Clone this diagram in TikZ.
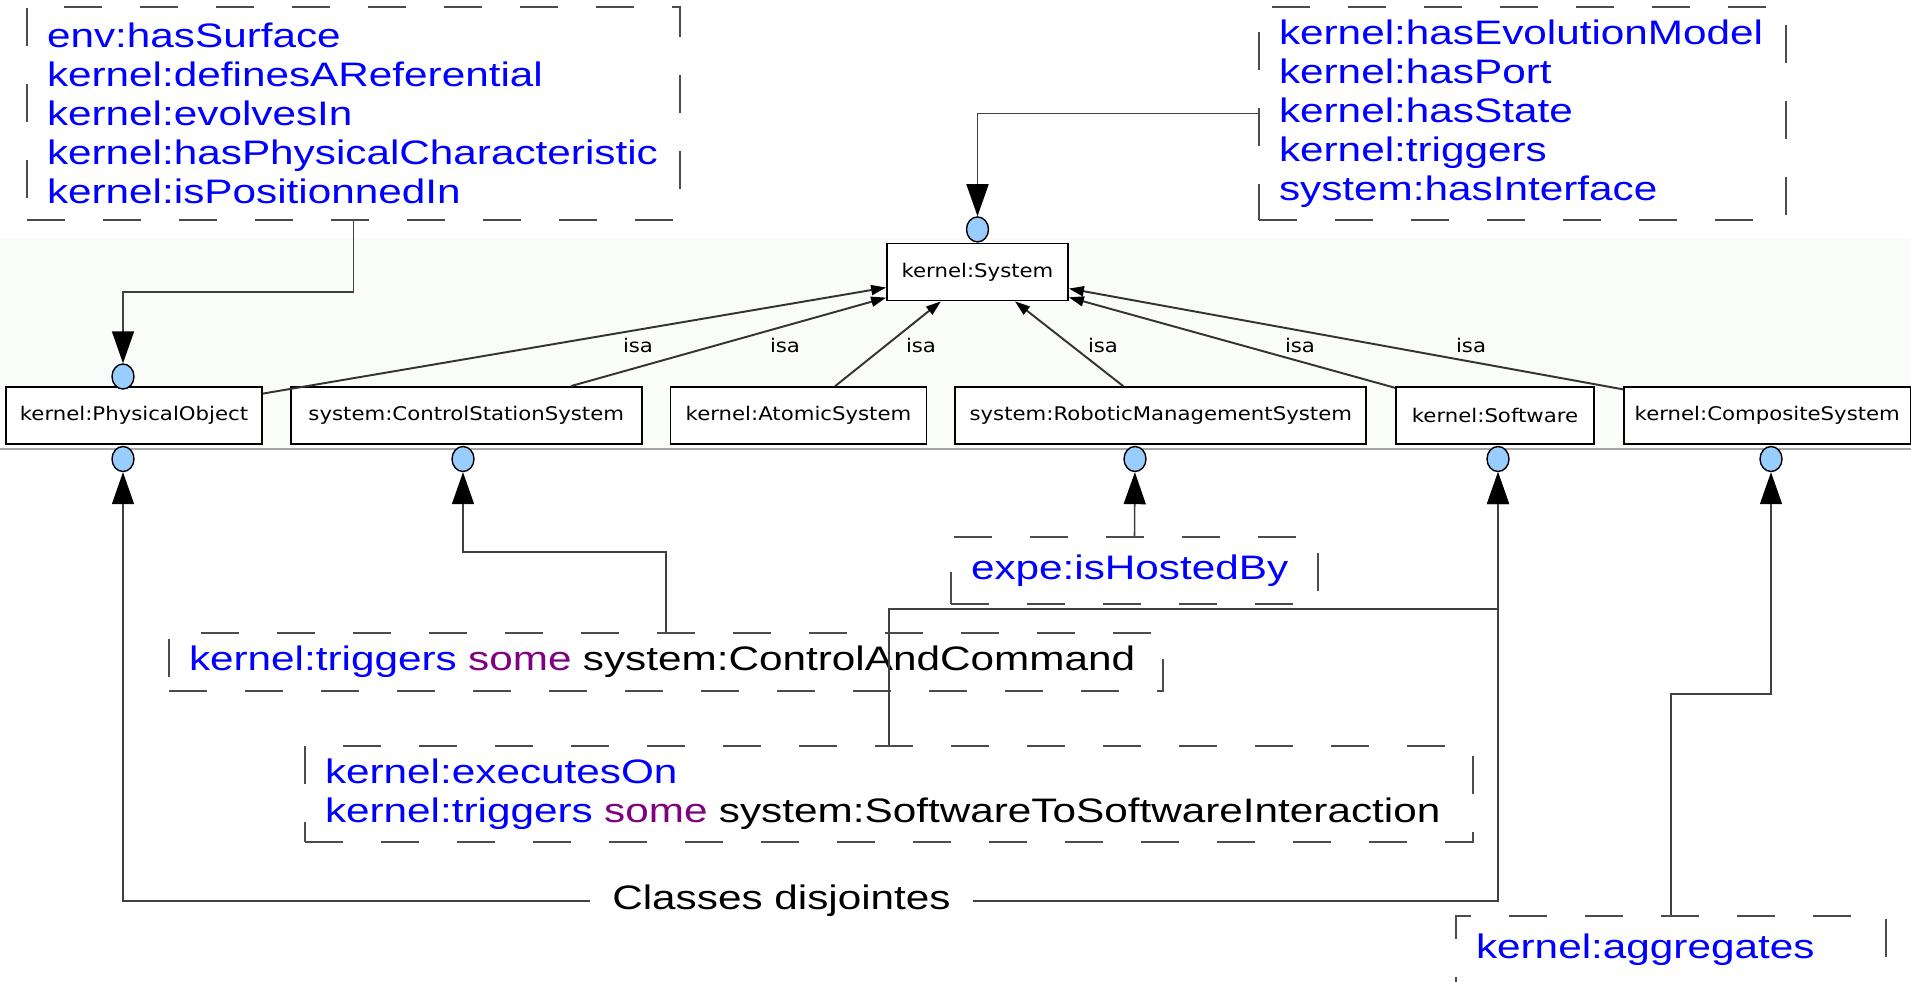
\documentclass[tikz,border=0pt]{standalone}
\usepackage{fontspec}
\usepackage{xcolor}
\usetikzlibrary{arrows.meta, shapes.geometric, positioning}
\newfontfamily\notefam{Liberation Sans}[FakeStretch=1.244]
\newfontfamily\clsfam{DejaVu Sans}[FakeStretch=1.13]
\definecolor{relblue}{RGB}{0, 0, 255}
\definecolor{somepurple}{RGB}{128, 0, 128}
\definecolor{portblue}{RGB}{153, 204, 255}
\definecolor{bandgray}{RGB}{250, 252, 249}
\newcommand{\notefont}{\notefam\fontsize{9.67pt}{11.1pt}\selectfont}
\newcommand{\clsfont}{\clsfam\fontsize{5.35pt}{6.4pt}\selectfont}
\newcommand{\rel}[1]{\textcolor{relblue}{#1}}
\newcommand{\kwsome}{\textcolor{somepurple}{some}}
\hyphenpenalty=10000

\begin{document}
\begin{tikzpicture}[
    cls/.style={draw, line width=0.5pt, fill=white, font=\clsfont,
      minimum height=0.57cm, inner sep=0pt},
    port/.style={ellipse, draw, line width=0.4pt, fill=portblue,
      minimum width=0.22cm, minimum height=0.25cm, inner sep=0pt},
    note/.style={draw=black!70, line width=0.45pt,
      dash pattern=on 0.38cm off 0.38cm, font=\notefont, align=left,
      inner xsep=0.2cm, inner ysep=0pt},
    isa/.style={draw=black!80, line width=0.55pt,
      -{Triangle[length=0.15cm, width=0.1cm, black]}},
    link/.style={draw=black!75, line width=0.45pt,
      -{Triangle[length=0.32cm, width=0.22cm, black]}},
    isalbl/.style={font=\clsfont, inner sep=0pt}
  ]
        \useasboundingbox (0,0) rectangle (19.11,-9.81);

        % shaded band behind the class hierarchy
        \fill[bandgray] (0,-2.38) rectangle (19.11,-4.49);
        \draw[black!35, line width=0.45pt] (0,-4.49) -- (19.11,-4.49);

        % classes
        \node[cls, minimum width=1.81cm] (sys) at (9.775,-2.72) {kernel:System};
        \node[cls, minimum width=2.56cm] (po) at (1.34,-4.155) {kernel:PhysicalObject};
        \node[cls, minimum width=3.51cm, right=0.27cm of po] (css)
          {system:ControlStationSystem};
        \node[cls, minimum width=2.56cm, right=0.27cm of css] (atm)
          {kernel:AtomicSystem};
        \node[cls, minimum width=4.11cm, right=0.27cm of atm] (rms)
          {system:RoboticManagementSystem};
        \node[cls, minimum width=1.98cm, right=0.28cm of rms] (sw)
          {kernel:Software};
        \node[cls, minimum width=2.87cm, right=0.28cm of sw] (cps)
          {kernel:CompositeSystem};

        % isa edges
        \draw[isa] (po) -- (sys);
        \draw[isa] (css) -- (sys);
        \draw[isa] (atm) -- (sys);
        \draw[isa] (rms) -- (sys);
        \draw[isa] (sw) -- (sys);
        \draw[isa] (cps) -- (sys);
        \node[isalbl] at (6.38,-3.45) {isa};
        \node[isalbl] at (7.85,-3.45) {isa};
        \node[isalbl] at (9.21,-3.45) {isa};
        \node[isalbl] at (11.03,-3.45) {isa};
        \node[isalbl] at (13.00,-3.45) {isa};
        \node[isalbl] at (14.71,-3.45) {isa};

        % ports
        \node[port, above=0pt of sys] (psys) {};
        \node[port] (potop) at (1.23,-3.765) {};
        \node[port] (pobot) at (1.23,-4.59) {};
        \node[port] (csbot) at (4.63,-4.59) {};
        \node[port] (rbot) at (11.35,-4.59) {};
        \node[port] (swbot) at (14.98,-4.59) {};
        \node[port] (cpbot) at (17.71,-4.59) {};

        % property notes
        \node[note, text=relblue, text width=6.13cm, minimum height=2.13cm]
          (tl) at (3.535,-1.135)
          {env:hasSurface\\kernel:definesAReferential\\kernel:evolvesIn\\
           kernel:hasPhysicalCharacteristic\\kernel:isPositionnedIn};
        \node[note, text=relblue, text width=4.87cm, minimum height=2.13cm]
          (tr) at (15.225,-1.135)
          {kernel:hasEvolutionModel\\kernel:hasPort\\kernel:hasState\\
           kernel:triggers\\system:hasInterface};
        \node[note, text width=3.27cm, minimum height=0.67cm]
          (expe) at (11.345,-5.705) {\rel{expe:isHostedBy}};
        \node[note, text width=9.54cm, minimum height=0.58cm]
          (cac) at (6.66,-6.62)
          {\rel{kernel:triggers}~\kwsome~system:ControlAndCommand};
        \node[note, text width=11.28cm, minimum height=0.96cm]
          (exe) at (8.89,-7.94)
          {\rel{kernel:executesOn}\\
           \rel{kernel:triggers}~\kwsome~system:SoftwareToSoftwareInteraction};
        \node[note, text width=3.90cm, minimum height=0.67cm]
          (agg) at (16.71,-9.495) {\rel{kernel:aggregates}};

        % connectors to ports
        \draw[link] (tl.south) -- (tl.south |- 0,-2.92) -| (potop);
        \draw[link] (tr.west) -| (psys);
        \draw[link] (cac.north) -- (cac.north |- 0,-5.52) -| (csbot);
        \draw[link] (expe.north) -- (rbot);
        \draw[link] (exe.north) -- (exe.north |- 0,-6.09) -| (swbot);
        \draw[link] (agg.north) -- (agg.north |- 0,-6.94) -| (cpbot);

        % disjoint classes
        \node[font=\notefont, inner xsep=0.22cm] (disj) at (7.815,-9.01)
          {Classes disjointes};
        \draw[link] (disj.west) -| (pobot);
        \draw[link] (disj.east) -| (swbot);
      \end{tikzpicture}
\end{document}
